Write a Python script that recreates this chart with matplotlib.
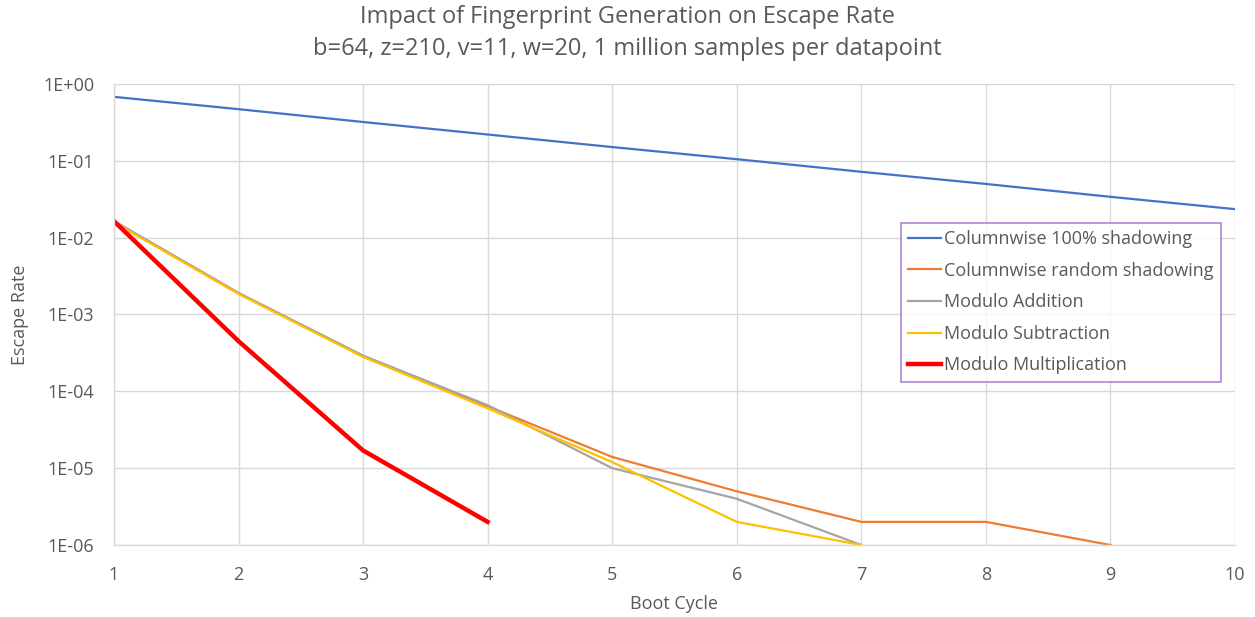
import math
import matplotlib.pyplot as plt
from matplotlib.ticker import FuncFormatter, FixedLocator

plt.rcParams['font.family'] = ['Open Sans', 'DejaVu Sans']

cycles = [1, 2, 3, 4, 5, 6, 7, 8, 9, 10]
col_100 = [0.68, 0.47, 0.32, 0.22, 0.151, 0.105, 0.072, 0.05, 0.034, 0.0235]
col_random = [0.0164, 0.0019, 2.9e-4, 6.4e-5, 1.4e-5, 5e-6, 2e-6, 2e-6, 1e-6]
mod_add = [0.0164, 0.0019, 2.9e-4, 6.6e-5, 1.0e-5, 4e-6, 1e-6]
mod_sub = [0.0158, 0.00185, 2.8e-4, 6.0e-5, 1.2e-5, 2e-6, 1e-6]
mod_mul = [0.0164, 4.5e-4, 1.7e-5, 2e-6]

txt = '#595959'
fig = plt.figure(figsize=(12.55, 6.17), dpi=100)
ax = fig.add_axes([0.0908, 0.1167, 0.8932, 0.7472])

ax.plot(cycles, col_100, color='#4472C4', lw=1.6, label='Columnwise 100% shadowing')
ax.plot(cycles[:len(col_random)], col_random, color='#ED7D31', lw=1.6, label='Columnwise random shadowing')
ax.plot(cycles[:len(mod_add)], mod_add, color='#A5A5A5', lw=1.6, label='Modulo Addition')
ax.plot(cycles[:len(mod_sub)], mod_sub, color='#FFC000', lw=1.6, label='Modulo Subtraction')
ax.plot(cycles[:len(mod_mul)], mod_mul, color='#FF0000', lw=3.2, label='Modulo Multiplication')

ax.set_yscale('log')
ax.set_ylim(1e-6, 1)
ax.set_xlim(1, 10)
ax.set_xticks(cycles)
ax.yaxis.set_major_locator(FixedLocator([10.0 ** -k for k in range(7)]))
ax.yaxis.set_minor_locator(FixedLocator([]))
ax.yaxis.set_major_formatter(FuncFormatter(lambda v, p: '1E%+03d' % round(math.log10(v))))

ax.grid(True, color='#D9D9D9', lw=1.0)
ax.set_axisbelow(True)
for s in ['top', 'right']:
    ax.spines[s].set_visible(False)
for s in ['left', 'bottom']:
    ax.spines[s].set_color('#D9D9D9')
    ax.spines[s].set_linewidth(1.0)
ax.tick_params(length=0, labelsize=13, colors=txt)
ax.tick_params(axis='x', pad=15)
ax.tick_params(axis='y', pad=14)

ax.set_xlabel('Boot Cycle', fontsize=13, color=txt, labelpad=8)
ax.set_ylabel('Escape Rate', fontsize=13, color=txt, labelpad=10)
fig.text(0.5, 0.973, 'Impact of Fingerprint Generation on Escape Rate',
         fontsize=17, color=txt, ha='center', va='center')
fig.text(0.5, 0.921, 'b=64, z=210, v=11, w=20, 1 million samples per datapoint',
         fontsize=17, color=txt, ha='center', va='center')

leg = ax.legend(loc='upper left', bbox_to_anchor=(0.718, 0.6386), bbox_transform=fig.transFigure,
                fontsize=13, frameon=True, fancybox=False, edgecolor='#9966CC', borderaxespad=0,
                handlelength=1.8, handletextpad=0.2, labelspacing=0.75, borderpad=0.4)
leg.get_frame().set_linewidth(1.2)
for t in leg.get_texts():
    t.set_color(txt)

fig.savefig('out.png')
